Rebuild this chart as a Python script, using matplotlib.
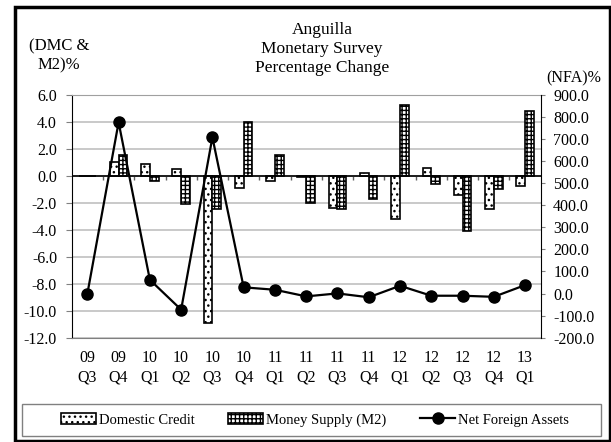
import numpy as np
import matplotlib
matplotlib.use("Agg")
import matplotlib.pyplot as plt
from matplotlib.patches import Rectangle
from matplotlib.ticker import FormatStrFormatter, MultipleLocator

plt.rcParams['font.family'] = ['Liberation Serif', 'DejaVu Serif']
plt.rcParams['hatch.linewidth'] = 1.0

quarters = ["09\nQ3", "09\nQ4", "10\nQ1", "10\nQ2", "10\nQ3", "10\nQ4", "11\nQ1", "11\nQ2",
            "11\nQ3", "11\nQ4", "12\nQ1", "12\nQ2", "12\nQ3", "12\nQ4", "13\nQ1"]
domestic_credit = [0.0, 1.0, 0.9, 0.5, -10.9, -0.9, -0.4, -0.1, -2.4, 0.2, -3.2, 0.6, -1.4, -2.5, -0.8]
money_supply = [0.0, 1.5, -0.4, -2.1, -2.5, 4.0, 1.5, -2.0, -2.5, -1.7, 5.2, -0.6, -4.1, -1.0, 4.8]
net_foreign = [-2.0, 775.0, 62.0, -73.0, 707.0, 28.0, 17.0, -13.0, 0.5, -17.0, 35.0, -10.0, -10.0, -15.0, 38.0]

fs = 11.5

fig = plt.figure(figsize=(6.11, 4.42), dpi=100)
ax = fig.add_axes([71.7/611, 1-337.7/442, (540.7-71.7)/611, (337.7-94.7)/442])
ax2 = ax.twinx()

x = np.arange(len(quarters))
w = 0.28
b1 = ax.bar(x - w/2, domestic_credit, w, color='white', edgecolor='black', linewidth=1.2,
            hatch='...', label='Domestic Credit', zorder=2)
b2 = ax.bar(x + w/2, money_supply, w, color='white', edgecolor='black', linewidth=1.2,
            hatch='++++', label='Money Supply (M2)', zorder=2)
ax.axhline(0, color='black', lw=1.2, zorder=3)

ln, = ax2.plot(x, net_foreign, color='black', lw=1.6, marker='o', markersize=8,
               label='Net Foreign Assets')

# left axis
ax.set_xlim(-0.5, len(quarters) - 0.5)
ax.set_ylim(-12, 6)
ax.yaxis.set_major_locator(MultipleLocator(2))
ax.yaxis.set_major_formatter(FormatStrFormatter('%.1f'))
ax.set_axisbelow(True)
ax.grid(axis='y', color='#c0c0c0', lw=1.2)
ax.set_xticks(x)
ax.set_xticklabels(quarters)
for t in ax.get_xticklabels():
    t.set_linespacing(1.3)
ax.tick_params(axis='x', length=0, pad=9, labelsize=fs)
ax.tick_params(axis='y', direction='out', length=4.5, color='#808080', labelsize=fs, pad=6)
ax.spines['left'].set_color('black')
ax.spines['bottom'].set_color('#808080')
ax.spines['top'].set_color('#a0a0a0')
ax.spines['right'].set_visible(False)

# category tick marks on the zero line
zero = ax.secondary_xaxis(2/3)
zero.set_alignment('bottom')
zero.set_xticks(np.arange(0.5, len(quarters) - 1, 1.0))
zero.tick_params(axis='x', direction='out', length=3, width=1, color='#606060',
                 labelbottom=False, labeltop=False)
zero.spines['bottom'].set_visible(False)

# right axis
ax2.set_ylim(-200, 900)
ax2.yaxis.set_major_locator(MultipleLocator(100))
ax2.yaxis.set_major_formatter(FormatStrFormatter('%.1f'))
ax2.tick_params(axis='y', direction='out', length=3, color='#808080', labelsize=fs, pad=6)
for s in ['left', 'top', 'bottom']:
    ax2.spines[s].set_visible(False)
ax2.spines['right'].set_color('black')

fig.text(322/611, 1-49/442, "Anguilla\nMonetary Survey\nPercentage Change", ha='center', va='center',
         fontsize=12.5, linespacing=1.25)
fig.text(59/611, 1-56/442, "(DMC &\nM2)%", ha='center', va='center', fontsize=12, linespacing=1.25)
fig.text(574/611, 1-78/442, "(NFA)%", ha='center', va='center', fontsize=11.5)

leg = fig.legend(handles=[b1, b2, ln], loc='center', ncol=3,
                 bbox_to_anchor=(315/611, 1-420/442),
                 fontsize=10.5, frameon=False, handlelength=2.4, columnspacing=2.3,
                 handletextpad=0.2, borderaxespad=0)
fig.patches.append(Rectangle((22/611, 1-436/442), (601-22)/611, (436-404)/442, transform=fig.transFigure,
                             fill=False, edgecolor='#808080', lw=1.0))

fig.patches.append(Rectangle((15/611, 1/442), (609.5-15)/611, (434)/442, transform=fig.transFigure,
                             fill=False, edgecolor='black', lw=2.5))

fig.savefig('out.png', dpi=100)
